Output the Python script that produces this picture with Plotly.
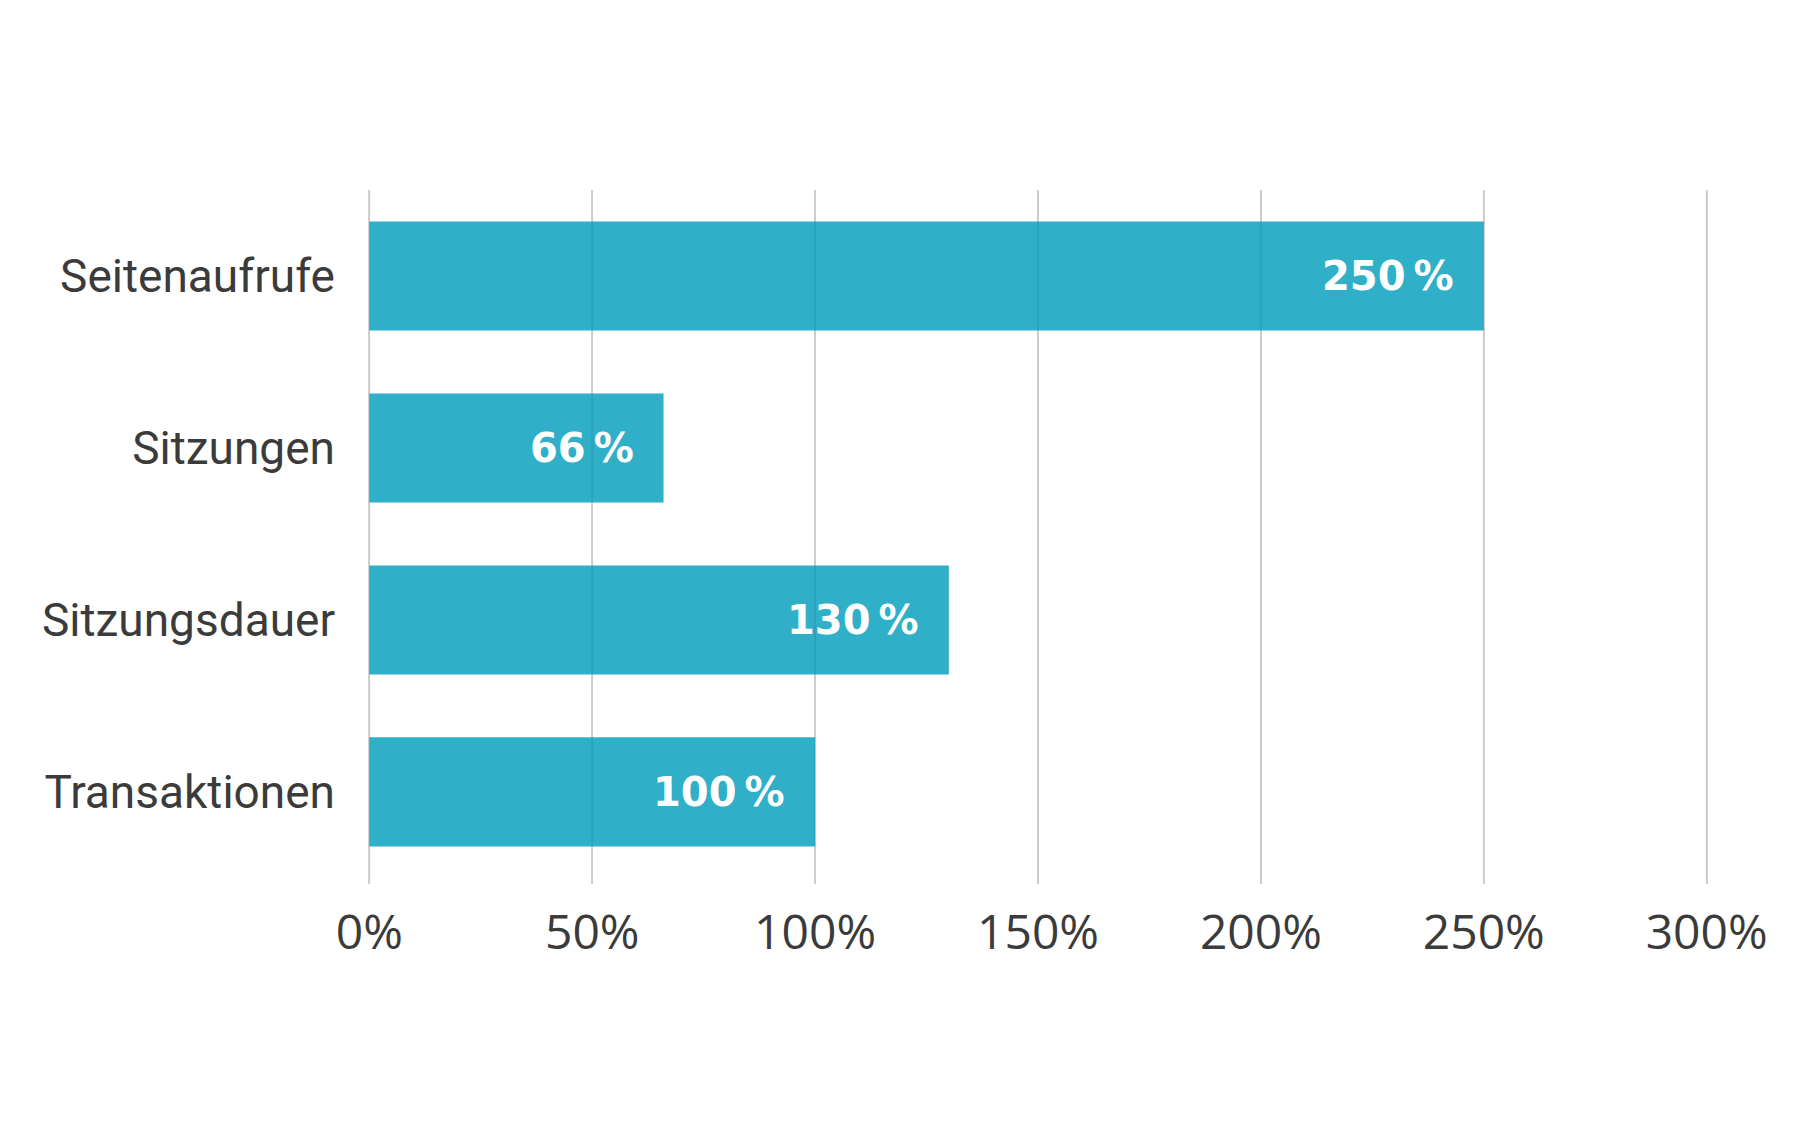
import plotly.graph_objects as go

categories = ["Seitenaufrufe", "Sitzungen", "Sitzungsdauer", "Transaktionen"]
values = [250, 66, 130, 100]
tick_values = [0, 50, 100, 150, 200, 250, 300]
tick_labels = ["0%", "50%", "100%", "150%", "200%", "250%", "300%"]

BAR_COLOR = "#30afc8"
TEXT_COLOR = "#3b3b3b"
CAT_FONT = "Roboto, Liberation Sans, Arial, sans-serif"
TICK_FONT = "Open Sans, Roboto, sans-serif"
VAL_FONT = "DejaVu Sans, Lato, sans-serif"

fig = go.Figure()
fig.add_trace(go.Bar(
    x=values,
    y=categories,
    orientation="h",
    marker=dict(color=BAR_COLOR, line=dict(width=0)),
    width=0.635,
    hoverinfo="skip",
))

# value labels inside bar ends
for cat, v in zip(categories, values):
    fig.add_annotation(
        x=v, y=cat, xref="x", yref="y",
        text=f"{v}\u2009%",
        xanchor="right", yanchor="middle",
        xshift=-28, showarrow=False,
        font=dict(family=VAL_FONT, size=40, color="white", weight="bold"),
    )

# subtle gridline tint over the bars
for tv in tick_values:
    fig.add_shape(
        type="line", xref="x", yref="paper",
        x0=tv, x1=tv, y0=0, y1=1,
        line=dict(color="rgba(0,0,0,0.07)", width=2),
        layer="above",
    )

fig.update_layout(
    width=1785, height=1117,
    margin=dict(l=360, r=85, t=182, b=241),
    paper_bgcolor="white", plot_bgcolor="white",
    showlegend=False,
    font=dict(family=CAT_FONT, color=TEXT_COLOR, size=46),
)
fig.update_xaxes(
    range=[-0.3, 300.3],
    tickvals=tick_values, ticktext=tick_labels,
    showgrid=True, gridcolor="#dcdcdc", gridwidth=2,
    zeroline=False, showline=False,
    ticks="", ticklabelstandoff=16,
    tickfont=dict(family=TICK_FONT, size=48, color=TEXT_COLOR),
    fixedrange=True,
)
fig.update_yaxes(
    categoryorder="array", categoryarray=categories,
    range=[3.535, -0.5],
    showgrid=False, zeroline=False, showline=False,
    ticks="", ticklabelstandoff=32,
    tickfont=dict(family=CAT_FONT, size=46, color=TEXT_COLOR),
    fixedrange=True,
)

fig.write_html("out.html", config={"displayModeBar": False})
